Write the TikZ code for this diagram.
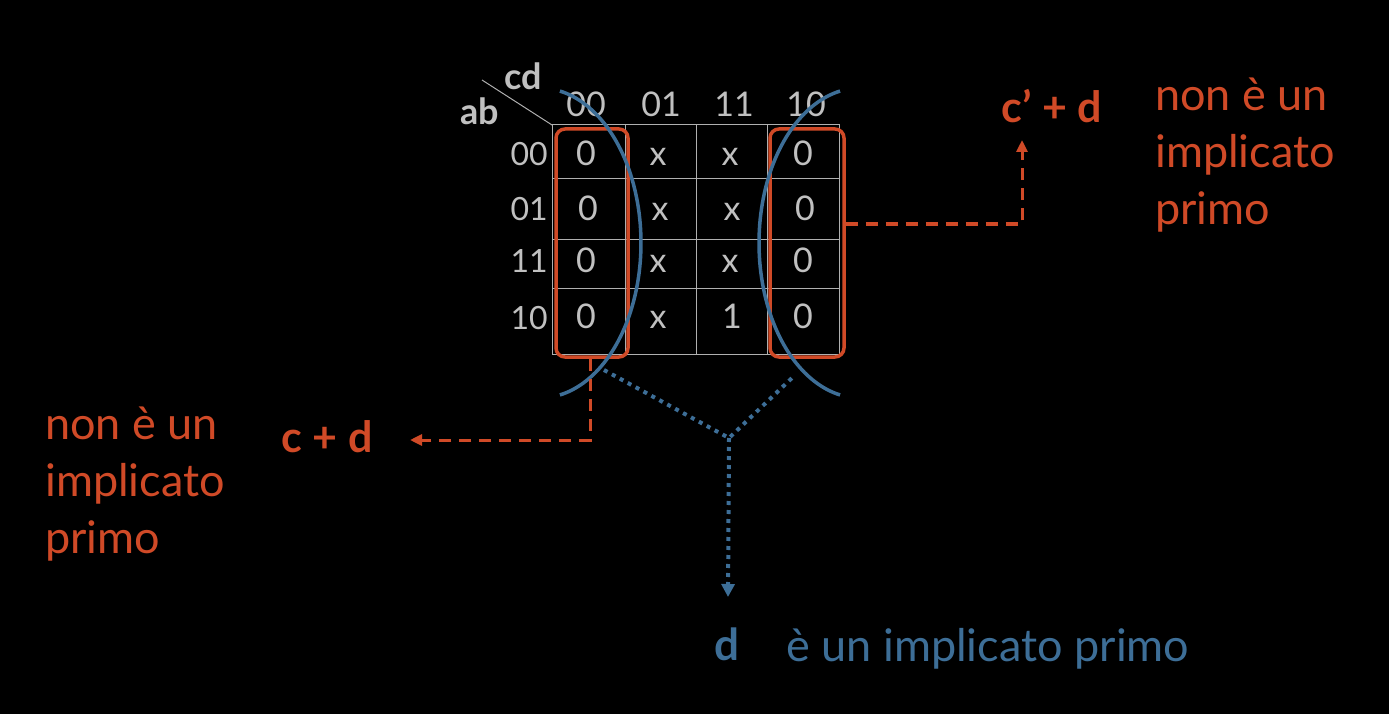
\documentclass[tikz,border=0pt]{standalone}
\usepackage{fontspec}
\setmainfont{Lato}
\usetikzlibrary{arrows.meta,calc}
\definecolor{kor}{HTML}{D04A27}
\definecolor{kbl}{HTML}{3D6E97}
\definecolor{kgt}{HTML}{C0C0C0}
\definecolor{kgl}{HTML}{B0B0B0}
\begin{document}
\begin{tikzpicture}[x=1pt,y=-1pt,
  cellt/.style={text=kgt,font=\fontsize{34}{34}\selectfont,anchor=base,inner sep=0pt},
  rowlab/.style={text=kgt,font=\fontsize{32}{32}\selectfont,anchor=base east,inner sep=0pt},
  collab/.style={text=kgt,font=\fontsize{34}{34}\selectfont,anchor=base,inner sep=0pt},
  axlab/.style={text=kgt,font=\bfseries\fontsize{36}{36}\selectfont,anchor=base,inner sep=0pt},
  grid/.style={draw=kgl,line width=1pt},
  obox/.style={draw=kor,line width=3.5pt,rounded corners=9pt,inner sep=0pt},
  barc/.style={draw=kbl,line width=3.5pt},
  odash/.style={draw=kor,line width=3pt,dash pattern=on 12pt off 8pt,-{Triangle[length=12pt,width=11pt]}},
  bdot/.style={draw=kbl,line width=4pt,dash pattern=on 4pt off 5pt},
  olab/.style={text=kor,font=\bfseries\fontsize{43}{43}\selectfont,anchor=base,inner sep=0pt},
  otext/.style={text=kor,font=\fontsize{45}{57}\selectfont,align=left,anchor=base west,inner sep=0pt},
  btext/.style={text=kbl,font=\fontsize{45}{45}\selectfont,anchor=base west,inner sep=0pt},
  blab/.style={text=kbl,font=\bfseries\fontsize{44}{44}\selectfont,anchor=base,inner sep=0pt}]
\useasboundingbox (0,0) rectangle (1389,714);
\fill[black] (0,0) rectangle (1389,714);
% grid
\draw[grid] (552,125) rectangle (839,354);
\draw[grid] (625,125) -- (625,354) (696,125) -- (696,354) (767,125) -- (767,354);
\draw[grid] (552,179) -- (839,179) (552,239) -- (839,239) (552,288) -- (839,288);
\draw[kgl,line width=1pt] (482,80) -- (552,125);
\node[axlab] (cd) at (523,90) {cd};
\node[axlab] (ab) at (480,125) {ab};
% column labels
\node[collab] (k1) at (586,117) {00};
\node[collab] (k2) at (661,117) {01};
\node[collab] (k3) at (734,117) {11};
\node[collab] (k4) at (806,117) {10};
% row labels
\node[rowlab] (r1) at (548,166) {00};
\node[rowlab] (r2) at (548,221) {01};
\node[rowlab] (r3) at (548,272) {11};
\node[rowlab] (r4) at (548,329) {10};
% cells
\node[cellt] (a11) at (586,166) {0};
\node[cellt] (a12) at (658,166) {x};
\node[cellt] (a13) at (730,166) {x};
\node[cellt] (a14) at (803,166) {0};
\node[cellt] (a21) at (588,221) {0};
\node[cellt] (a22) at (660,221) {x};
\node[cellt] (a23) at (732,221) {x};
\node[cellt] (a24) at (805,221) {0};
\node[cellt] (a31) at (586,272) {0};
\node[cellt] (a32) at (658,272) {x};
\node[cellt] (a33) at (730,272) {x};
\node[cellt] (a34) at (803,272) {0};
\node[cellt] (a41) at (586,328) {0};
\node[cellt] (a42) at (658,328) {x};
\node[cellt] (a43) at (732,328) {1};
\node[cellt] (a44) at (803,328) {0};
% orange groups
\node[obox,minimum width=72pt,minimum height=228pt] (lrect) at (592,243) {};
\node[obox,minimum width=74pt,minimum height=228pt] (rrect) at (807,243) {};
% blue arcs
\draw[barc] plot[domain=-78.6:78.6,samples=80] ({540+101*cos(\x)},{243+155*sin(\x)});
\draw[barc] plot[domain=101.4:258.6,samples=80] ({860+101*cos(\x)},{243+155*sin(\x)});
% labels
\node[olab] (cpd) at (327,452) {c + d};
\node[olab] (cppd) at (1052,123) {c’ + d};
\node[otext] (lnote) at (45,553) {non è un\\implicato\\primo};
\node[otext] (rnote) at (1155,225) {non è un\\implicato\\primo};
\node[blab] (dlab) at (727,660) {d};
\node[btext] (dnote) at (786,661) {è un implicato primo};
% orange dashed connectors
\coordinate (ltip) at (410,440);
\coordinate (rtip) at (1022,140);
\draw[odash] ([xshift=-2pt]lrect.south) |- (ltip);
\draw[odash] ([yshift=19pt]rrect.east) -| (rtip);
% blue dotted connectors
\coordinate (la) at (604,370);
\coordinate (ra) at (793,377);
\coordinate (j) at (729,438);
\coordinate (dt) at (728,597);
\draw[bdot] (la) -- (j) -- (ra);
\draw[bdot,-{Triangle[length=13pt,width=13pt]}] (j) -- (dt);
\end{tikzpicture}
\end{document}
